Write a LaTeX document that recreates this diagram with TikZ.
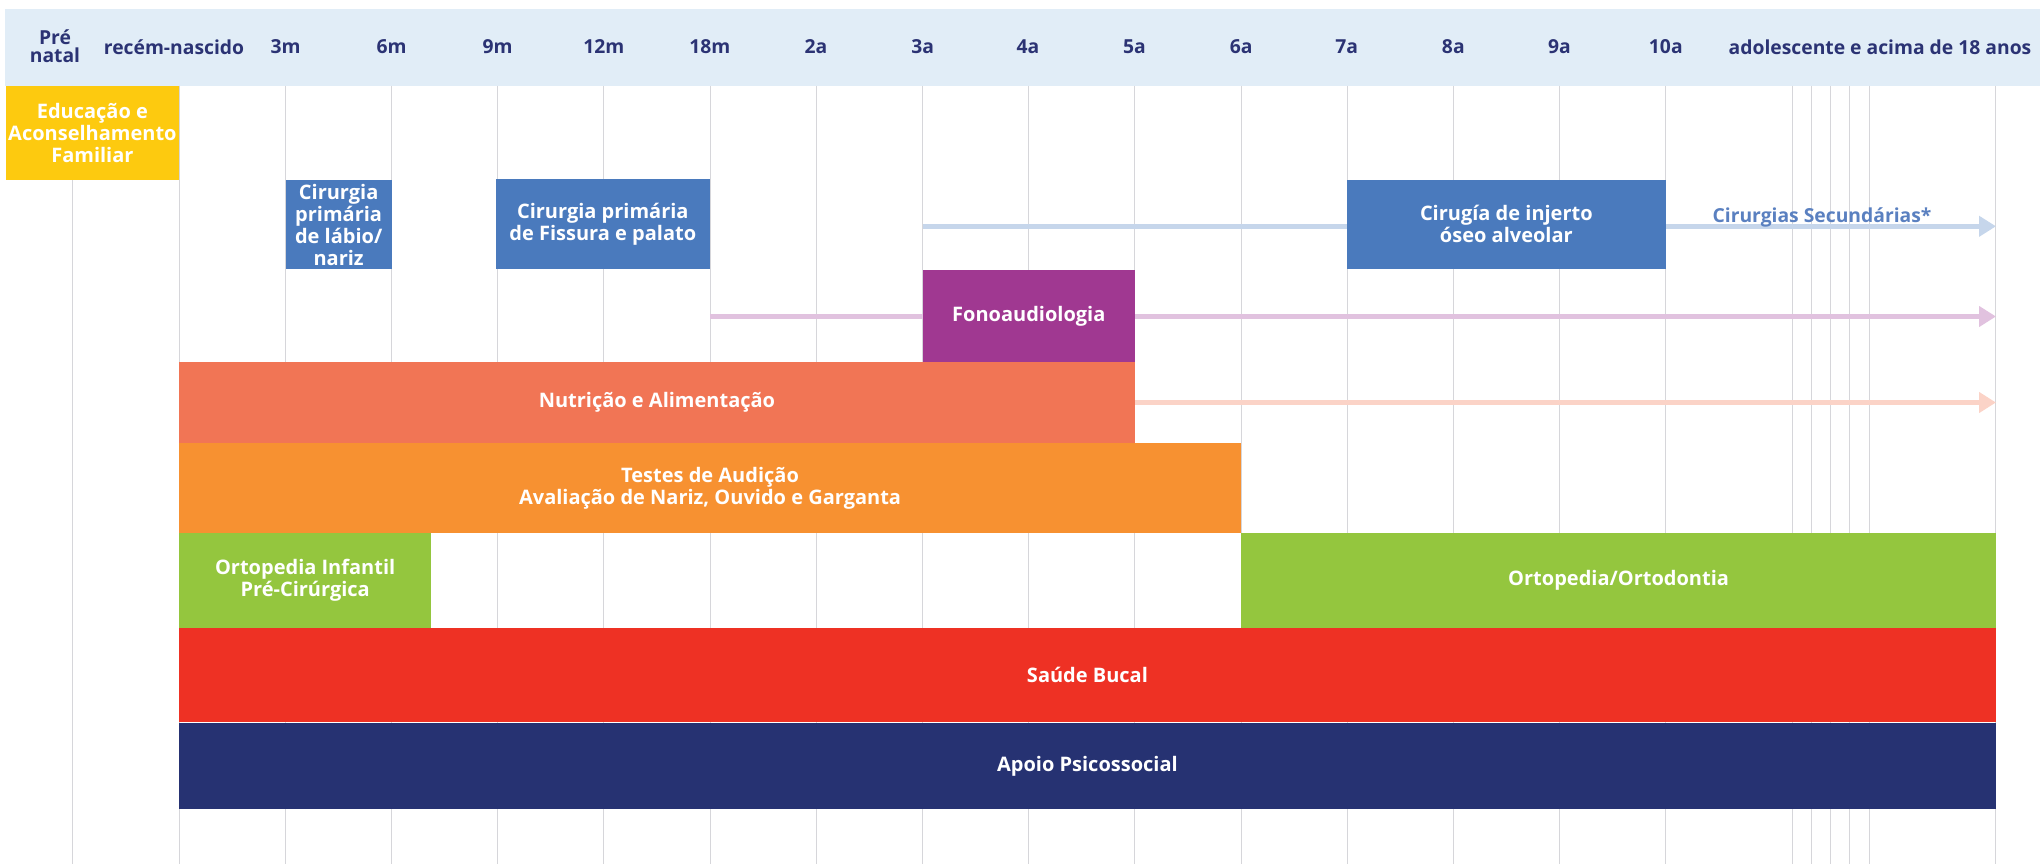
\documentclass[tikz,border=0pt]{standalone}
\usepackage{fontspec}
\setmainfont{Open Sans}
\usetikzlibrary{arrows.meta}
\definecolor{hdrbg}{HTML}{E1EDF7}
\definecolor{hdrtext}{HTML}{2B3374}
\definecolor{gridc}{HTML}{D6D6DA}
\definecolor{cyellow}{HTML}{FDCA0F}
\definecolor{cblue}{HTML}{4A7ABD}
\definecolor{cbluelt}{HTML}{C6D6EB}
\definecolor{cbluetxt}{HTML}{5A80C0}
\definecolor{cpurple}{HTML}{A03891}
\definecolor{cpurplelt}{HTML}{E1C2DF}
\definecolor{csalmon}{HTML}{F17555}
\definecolor{csalmonlt}{HTML}{FBD3C7}
\definecolor{corange}{HTML}{F79131}
\definecolor{cgreen}{HTML}{94C63E}
\definecolor{cred}{HTML}{EE3124}
\definecolor{cnavy}{HTML}{263272}
\begin{document}
\begin{tikzpicture}[x=1pt,y=-1pt,
  bar/.style={inner sep=0pt, outer sep=0pt, anchor=north west, text=white,
    font=\bfseries\fontsize{20}{22}\selectfont, align=center},
  hdr/.style={text=hdrtext, font=\bfseries\fontsize{19.3}{19}\selectfont, align=center, inner sep=0pt},
  gridline/.style={draw=gridc, line width=1.1pt},
  conn/.style={line width=5pt},
  tip/.style={-{Triangle[length=17pt,width=20pt]}}
]
\useasboundingbox (0,0) rectangle (2040,864);
% header band
\fill[hdrbg] (5,9) rectangle (2040,86);
% grid
\foreach \i in {0,...,15}{
  \draw[gridline] ({72.9+106.2*\i},86) -- ({72.9+106.2*\i},864);
}
\foreach \xx in {1792.3,1811.2,1830.7,1849.5,1869.1,1995.9}{
  \draw[gridline] (\xx,86) -- (\xx,864);
}
% header labels
\node[hdr] (hpre) at (55,46) {Pré\\[-1pt]natal};
\node[hdr] (hrn) at (174,47) {recém-nascido};
\node[hdr] (h3m) at (285.6,47) {3m};
\node[hdr] (h6m) at (391.7,47) {6m};
\node[hdr] (h9m) at (497.7,47) {9m};
\node[hdr] (h12m) at (603.8,47) {12m};
\node[hdr] (h18m) at (709.8,47) {18m};
\node[hdr] (h2a) at (815.9,47) {2a};
\node[hdr] (h3a) at (922.6,47) {3a};
\node[hdr] (h4a) at (1028,47) {4a};
\node[hdr] (h5a) at (1134.5,47) {5a};
\node[hdr] (h6a) at (1241.2,47) {6a};
\node[hdr] (h7a) at (1346.6,47) {7a};
\node[hdr] (h8a) at (1453.3,47) {8a};
\node[hdr] (h9a) at (1559.4,47) {9a};
\node[hdr] (h10a) at (1665.8,47) {10a};
\node[hdr] (hadol) at (1880,47) {adolescente e acima de 18 anos};
% connector end points
\coordinate (secstart) at (922.6,226.3);
\coordinate (secend) at (1996,226.3);
\coordinate (fonostart) at (709.8,316.5);
\coordinate (fonoend) at (1996,316.5);
\coordinate (nutend) at (1996,402.5);
% boxes
\node[bar, fill=cyellow, minimum width=173, minimum height=94] (edu) at (5.9,86) {Educação e\\Aconselhamento\\Familiar};
\node[bar, fill=cblue, minimum width=106.1, minimum height=89] (lab) at (285.6,180) {Cirurgia\\primária\\de lábio/\\nariz};
\node[bar, fill=cblue, minimum width=214, minimum height=89.7] (fis) at (495.8,179) {Cirurgia primária\\de Fissura e palato};
\node[bar, fill=cblue, minimum width=319.5, minimum height=88.7] (inj) at (1346.6,180) {Cirugía de injerto\\óseo alveolar};
\node[bar, fill=cpurple, minimum width=212.4, minimum height=92] (fono) at (922.6,270) {Fonoaudiologia};
\node[bar, fill=csalmon, minimum width=956.1, minimum height=81] (nut) at (178.9,362) {Nutrição e Alimentação};
\node[bar, fill=corange, minimum width=1062.3, minimum height=90] (tes) at (178.9,443) {Testes de Audição\\Avaliação de Nariz, Ouvido e Garganta};
\node[bar, fill=cgreen, minimum width=252.5, minimum height=94.7] (ortinf) at (178.9,533) {Ortopedia Infantil\\Pré-Cirúrgica};
\node[bar, fill=cgreen, minimum width=754.8, minimum height=94.7] (ortdon) at (1241.2,533) {Ortopedia/Ortodontia};
\node[bar, fill=cred, minimum width=1817.1, minimum height=94.3] (sau) at (178.9,627.7) {Saúde Bucal};
\node[bar, fill=cnavy, minimum width=1817.1, minimum height=85.7] (apo) at (178.9,723) {Apoio Psicossocial};
% connectors
\draw[conn, cbluelt] (secstart) -- (secstart -| inj.west);
\draw[conn, cbluelt, tip] (inj.east |- secend) -- (secend);
\draw[conn, cpurplelt] (fonostart) -- (fonostart -| fono.west);
\draw[conn, cpurplelt, tip] (fono.east |- fonoend) -- (fonoend);
\draw[conn, csalmonlt, tip] (nut.east |- nutend) -- (nutend);
\node[text=cbluetxt, font=\bfseries\fontsize{19.3}{19}\selectfont, anchor=base, inner sep=0pt] (seclabel) at (1822,222) {Cirurgias Secundárias*};
\end{tikzpicture}
\end{document}
